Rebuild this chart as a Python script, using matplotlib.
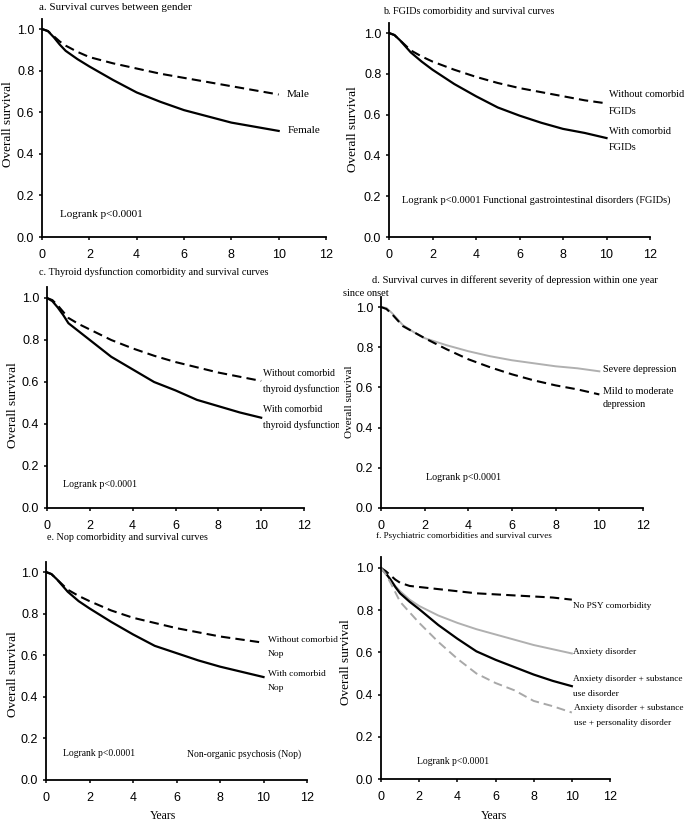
import matplotlib.pyplot as plt
from matplotlib.transforms import Bbox, TransformedBbox

years = [0, 0.25, 0.5, 0.75, 1, 1.5, 2, 3, 4, 5, 6, 7, 8, 9, 10]

# a. gender
male = [1.0, 0.99, 0.965, 0.94, 0.92, 0.89, 0.865, 0.835, 0.81, 0.785, 0.765, 0.745, 0.725, 0.705, 0.685]
female = [1.0, 0.99, 0.96, 0.925, 0.895, 0.855, 0.82, 0.755, 0.695, 0.65, 0.61, 0.58, 0.55, 0.53, 0.51]

# b. FGIDs
fgid_without = [1.0, 0.99, 0.965, 0.94, 0.915, 0.885, 0.86, 0.82, 0.785, 0.755, 0.73, 0.71, 0.69, 0.67, 0.655]
fgid_with = [1.0, 0.99, 0.965, 0.935, 0.905, 0.86, 0.82, 0.75, 0.69, 0.635, 0.595, 0.56, 0.53, 0.51, 0.485]

# c. thyroid dysfunction
thy_without = [1.0, 0.99, 0.965, 0.935, 0.905, 0.875, 0.85, 0.80, 0.76, 0.725, 0.695, 0.67, 0.645, 0.625, 0.605]
thy_with = [1.0, 0.985, 0.955, 0.92, 0.88, 0.84, 0.80, 0.72, 0.66, 0.60, 0.56, 0.515, 0.485, 0.455, 0.43]

# d. severity of depression
severe = [1.0, 0.995, 0.97, 0.94, 0.91, 0.875, 0.845, 0.81, 0.78, 0.755, 0.735, 0.72, 0.705, 0.695, 0.68]
mild = [1.0, 0.99, 0.965, 0.935, 0.905, 0.875, 0.845, 0.79, 0.74, 0.70, 0.665, 0.635, 0.61, 0.59, 0.565]

# e. Nop
nop_without = [1.0, 0.99, 0.965, 0.94, 0.915, 0.885, 0.86, 0.815, 0.78, 0.755, 0.73, 0.71, 0.69, 0.675, 0.66]
nop_with = [1.0, 0.99, 0.965, 0.935, 0.905, 0.86, 0.825, 0.76, 0.70, 0.645, 0.61, 0.575, 0.545, 0.52, 0.495]

# f. psychiatric comorbidities
no_psy = [1.0, 0.985, 0.965, 0.945, 0.93, 0.915, 0.91, 0.9, 0.89, 0.88, 0.875, 0.87, 0.865, 0.86, 0.85]
anx = [1.0, 0.975, 0.945, 0.915, 0.89, 0.85, 0.82, 0.775, 0.74, 0.71, 0.685, 0.66, 0.635, 0.615, 0.595]
anx_sub = [1.0, 0.975, 0.945, 0.91, 0.88, 0.84, 0.805, 0.73, 0.665, 0.605, 0.565, 0.53, 0.495, 0.465, 0.44]
anx_sub_pers = [1.0, 0.97, 0.93, 0.885, 0.84, 0.79, 0.74, 0.65, 0.57, 0.50, 0.455, 0.42, 0.37, 0.345, 0.315]

W, H = 685, 824
serif = 'Liberation Serif'
sans = 'Liberation Sans'
plt.rcParams['font.family'] = sans

fig = plt.figure(figsize=(W / 100, H / 100), dpi=100, facecolor='white')

dash = (0, (4.5, 2.5))


def make_ax(x0, x12, y0, y1):
    # pixel positions of x=0, x=12, y=0 and y=1.0
    unit = y0 - y1
    top = y0 - 1.05 * unit
    ax = fig.add_axes([x0 / W, 1 - y0 / H, (x12 - x0) / W, (y0 - top) / H])
    ax.set_xlim(0, 12)
    ax.set_ylim(0, 1.05)
    ax.set_xticks(range(0, 13, 2))
    ax.set_yticks([0, 0.2, 0.4, 0.6, 0.8, 1.0])
    ax.set_yticklabels(['0.0', '0.2', '0.4', '0.6', '0.8', '1.0'])
    for s in ['top', 'right']:
        ax.spines[s].set_visible(False)
    for s in ['left', 'bottom']:
        ax.spines[s].set_linewidth(1.3)
    ax.tick_params(direction='out', length=2.5, width=1.1, labelsize=9)
    ax.tick_params(axis='y', pad=3)
    ax.tick_params(axis='x', pad=6)
    ax.set_facecolor('none')
    return ax


def txt(ax, x, y, s, fs, gap=None, **kw):
    # gap: distance between lines in pixels
    ls = 1.2 if gap is None else gap / (1.034 * fs)
    return ax.text(x, y, s, family=serif, fontsize=fs, va='center', ha='left',
                   linespacing=ls, clip_on=False, **kw)


def ftxt(x, y, s, fs, **kw):
    fig.text(x / W, 1 - y / H, s, family=serif, fontsize=fs, va='center', **kw)


# a
ax = make_ax(42, 326, 237, 29)
ax.plot(years, male, color='black', lw=1.5, ls=dash)
ax.plot(years, female, color='black', lw=1.6)
txt(ax, 10.35, 0.687, 'Male', 8)
txt(ax, 10.4, 0.51, 'Female', 8)
txt(ax, 0.76, 0.11, 'Logrank p<0.0001', 8)
ftxt(39, 8, 'a. Survival curves between gender', 8)
ftxt(8, 124, 'Overall survival', 9.5, rotation=90, ha='center')

# b
ax = make_ax(389, 650, 237, 33)
ax.plot(years, fgid_without, color='black', lw=1.5, ls=dash)
ax.plot(years, fgid_with, color='black', lw=1.6)
txt(ax, 10.1, 0.657, 'Without comorbid\nFGIDs', 7.4, gap=17)
txt(ax, 10.1, 0.478, 'With comorbid\nFGIDs', 7.4, gap=15)
txt(ax, 0.6, 0.18, 'Logrank p<0.0001', 7.6)
txt(ax, 4.3, 0.18, 'Functional gastrointestinal disorders (FGIDs)', 7.4)
ftxt(383, 12, 'b. FGIDs comorbidity and survival curves', 7.3)
ftxt(353, 129, 'Overall survival', 9.5, rotation=90, ha='center')

# c
ax = make_ax(47, 304, 508, 298)
ax.plot(years, thy_without, color='black', lw=1.5, ls=dash)
ax.plot(years, thy_with, color='black', lw=1.6)
clip = TransformedBbox(Bbox([[0, 0], [339 / W, 1]]), fig.transFigure)
for t in [txt(ax, 10.1, 0.602, 'Without comorbid\nthyroid dysfunction', 7.0, gap=13),
          txt(ax, 10.1, 0.431, 'With comorbid\nthyroid dysfunction', 7.0, gap=13)]:
    t.set_clip_box(clip)
    t.set_clip_on(True)
txt(ax, 0.75, 0.114, 'Logrank p<0.0001', 7.1)
ftxt(39, 272, 'c. Thyroid dysfunction comorbidity and survival curves', 7.35)
ftxt(13, 405, 'Overall survival', 9.5, rotation=90, ha='center')

# d
ax = make_ax(381, 643, 508, 307)
ax.plot(years, severe, color='#b0b0b0', lw=1.4)
ax.plot(years, mild, color='black', lw=1.5, ls=dash)
txt(ax, 10.17, 0.69, 'Severe depression', 7.3)
txt(ax, 10.17, 0.547, 'Mild to moderate\ndepression', 7.3, gap=12)
txt(ax, 2.06, 0.15, 'Logrank p<0.0001', 7.3)
ftxt(372, 280, 'd. Survival curves in different severity of depression within one year', 7.5)
ftxt(343, 293, 'since onset', 7.5)
ftxt(349, 402, 'Overall survival', 8, rotation=90, ha='center')

# e
ax = make_ax(46, 307, 780, 572)
ax.plot(years, nop_without, color='black', lw=1.5, ls=dash)
ax.plot(years, nop_with, color='black', lw=1.6)
txt(ax, 10.2, 0.64, 'Without comorbid\nNop', 6.8, gap=14)
txt(ax, 10.2, 0.476, 'With comorbid\nNop', 6.8, gap=14)
txt(ax, 0.78, 0.125, 'Logrank p<0.0001', 6.9)
txt(ax, 6.5, 0.125, 'Non-organic psychosis (Nop)', 6.9)
ftxt(47, 537, 'e. Nop comorbidity and survival curves', 7.3)
ftxt(13, 674, 'Overall survival', 9.5, rotation=90, ha='center')
ftxt(163, 816, 'Years', 8.5, ha='center')

# f
ax = make_ax(381, 610, 779, 568)
ax.plot(years, no_psy, color='black', lw=1.5, ls=dash)
ax.plot(years, anx, color='#b0b0b0', lw=1.4)
ax.plot(years, anx_sub, color='black', lw=1.6)
ax.plot(years, anx_sub_pers, color='#a8a8a8', lw=1.4, ls=dash)
txt(ax, 10.06, 0.82, 'No PSY comorbidity', 6.7)
txt(ax, 10.06, 0.603, 'Anxiety disorder', 6.7)
txt(ax, 10.06, 0.438, 'Anxiety disorder + substance\nuse disorder', 6.7, gap=15)
txt(ax, 10.12, 0.303, 'Anxiety disorder + substance\nuse + personality disorder', 6.7, gap=15)
txt(ax, 1.9, 0.085, 'Logrank p<0.0001', 6.9)
ftxt(376, 536, 'f. Psychiatric comorbidities and survival curves', 6.6)
ftxt(346, 662, 'Overall survival', 9.5, rotation=90, ha='center')
ftxt(494, 816, 'Years', 8.5, ha='center')

fig.savefig('out.png', dpi=100, facecolor='white')
